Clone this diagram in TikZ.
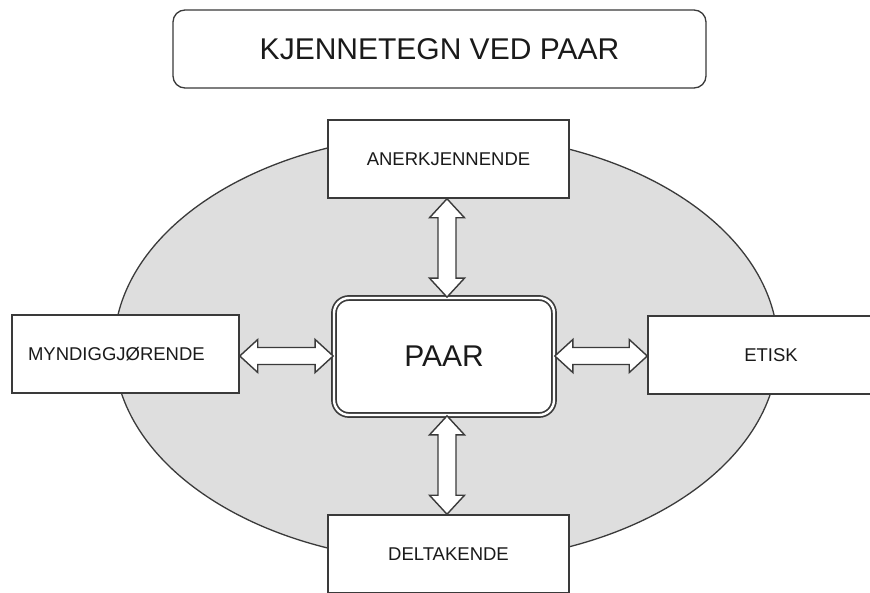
\documentclass[tikz,border=0pt]{standalone}
\usepackage{fontspec}
\setmainfont{Liberation Sans}
\usetikzlibrary{shapes.geometric,calc}
\definecolor{edgec}{HTML}{3A3A3A}
\definecolor{textc}{HTML}{1A1A1A}
\definecolor{ovalc}{HTML}{DEDEDE}
% vertical double arrow between two named anchors (top, bottom)
\newcommand\vdar[2]{%
  \draw[arr] let \p1=(#1), \p2=(#2) in
    (\x1,\y1) -- (\x1+17.5pt,\y1-19pt) -- (\x1+9pt,\y1-19pt) -- (\x1+9pt,\y2+19pt)
    -- (\x1+17.5pt,\y2+19pt) -- (\x1,\y2) -- (\x1-17.5pt,\y2+19pt) -- (\x1-9pt,\y2+19pt)
    -- (\x1-9pt,\y1-19pt) -- (\x1-17.5pt,\y1-19pt) -- cycle;}
% horizontal double arrow between two named anchors (left, right)
\newcommand\hdar[2]{%
  \draw[arr] let \p1=(#1), \p2=(#2) in
    (\x1,\y1) -- (\x1+18pt,\y1+16.5pt) -- (\x1+18pt,\y1+8.5pt) -- (\x2-18pt,\y1+8.5pt)
    -- (\x2-18pt,\y1+16.5pt) -- (\x2,\y1) -- (\x2-18pt,\y1-16.5pt) -- (\x2-18pt,\y1-8.5pt)
    -- (\x1+18pt,\y1-8.5pt) -- (\x1+18pt,\y1-16.5pt) -- cycle;}
\begin{document}
\begin{tikzpicture}[x=1pt,y=-1pt,
  box/.style={draw=edgec, line width=1.5pt, fill=white, inner sep=0pt,
    minimum height=78pt, text=textc, font=\fontsize{18.5}{20}\selectfont},
  arr/.style={draw=edgec, line width=1.4pt, fill=white, line join=miter},
  oval/.style={ellipse, draw=edgec, line width=1.3pt, fill=ovalc, inner sep=0pt}
]
\useasboundingbox (0,0) rectangle (870,592);
\fill[white] (0,0) rectangle (870,592);

% title
\node[draw=edgec, line width=1.3pt, rounded corners=12pt, minimum width=533pt,
  minimum height=78pt, inner sep=0pt, text=textc,
  font=\fontsize{30}{32}\selectfont] (title) at (439.5,49) {KJENNETEGN VED PAAR};

% ellipse
\node[oval, minimum width=664pt, minimum height=428pt] (oval) at (446,348) {};

% boxes
\node[box, minimum width=241pt] (anerk) at (448.5,159) {ANERKJENNENDE};
\node[box, minimum width=227pt, text width=195pt, align=left] (myndig) at (125.5,354) {MYNDIGGJØRENDE};
\node[box, minimum width=246pt] (etisk) at (771,355) {ETISK};
\node[box, minimum width=241pt] (delta) at (448.5,554) {DELTAKENDE};

% center
\node[draw=edgec, line width=1.7pt, double=white, double distance=2.4pt,
  fill=white, rounded corners=15pt, minimum width=220pt, minimum height=117pt,
  inner sep=0pt, text=textc, font=\fontsize{30}{32}\selectfont] (paar) at (444,356.5) {PAAR};

% arrows
\coordinate (a1t) at (anerk.south -| 447,0);
\coordinate (a1b) at (paar.north -| 447,0);
\coordinate (a2t) at (paar.south -| 447,0);
\coordinate (a2b) at (delta.north -| 447,0);
\vdar{a1t}{a1b}
\vdar{a2t}{a2b}
\coordinate (a3l) at (myndig.east |- 0,356);
\coordinate (a3r) at (paar.west |- 0,356);
\coordinate (a4l) at (paar.east |- 0,356);
\coordinate (a4r) at (etisk.west |- 0,356);
\hdar{a3l}{a3r}
\hdar{a4l}{a4r}
\end{tikzpicture}
\end{document}
